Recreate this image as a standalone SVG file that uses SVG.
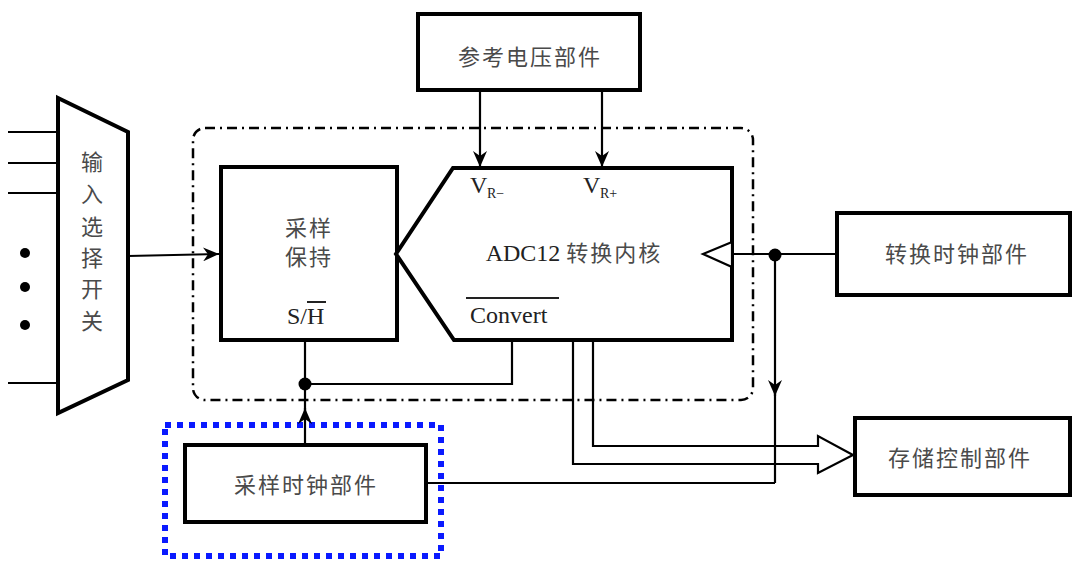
<svg xmlns="http://www.w3.org/2000/svg" width="1076" height="563" viewBox="0 0 1076 563">
<defs>
<style>
.box{fill:#fff;stroke:#000;stroke-width:4}
.ln{fill:none;stroke:#000;stroke-width:2.2}
.zh{font-family:"Noto Sans CJK SC","Noto Sans",sans-serif;font-size:22px;fill:#4a4a4a;letter-spacing:2px}
.lat{font-family:"Liberation Serif",serif;font-size:24px;fill:#222}
.sub{font-family:"Liberation Serif",serif;font-size:14px;fill:#222}
</style>
<marker id="arr" viewBox="0 0 16 14" refX="16" refY="7" markerWidth="16" markerHeight="14" markerUnits="userSpaceOnUse" orient="auto">
<path d="M0,0 L16,7 L0,14 L5,7 z" fill="#000"/>
</marker>
</defs>
<rect width="1076" height="563" fill="#fff"/>

<g id="enclosure">
<rect x="193" y="128" width="560" height="272" rx="12" fill="none" stroke="#000" stroke-width="2.5" stroke-dasharray="10 5 2 5"/>
</g>

<g id="highlight">
<rect x="165" y="425" width="276" height="131" fill="none" stroke="#0a1aff" stroke-width="6" stroke-dasharray="6 6"/>
</g>

<g id="connectors">
<line class="ln" x1="8" y1="132" x2="58" y2="132"/>
<line class="ln" x1="8" y1="163" x2="58" y2="163"/>
<line class="ln" x1="8" y1="193" x2="58" y2="193"/>
<line class="ln" x1="8" y1="383" x2="58" y2="383"/>
<circle cx="25" cy="253" r="5" fill="#000"/>
<circle cx="25" cy="287" r="5" fill="#000"/>
<circle cx="25" cy="325" r="5" fill="#000"/>
<line class="ln" x1="128" y1="256" x2="219" y2="254" marker-end="url(#arr)"/>
<line class="ln" x1="480" y1="90" x2="480" y2="167" marker-end="url(#arr)"/>
<line class="ln" x1="602" y1="90" x2="602" y2="167" marker-end="url(#arr)"/>
<line class="ln" x1="732" y1="254" x2="837" y2="254"/>
<circle cx="775" cy="255" r="6.5" fill="#000"/>
<line class="ln" x1="775" y1="255" x2="775" y2="396" marker-end="url(#arr)"/>
<line class="ln" x1="775" y1="390" x2="775" y2="483"/>
<polyline class="ln" points="426,483 775,483"/>
<polyline class="ln" points="305,341 305,384"/>
<polyline class="ln" points="305,384 512,384 512,341"/>
<circle cx="305" cy="384" r="6.5" fill="#000"/>
<line class="ln" x1="305" y1="445" x2="305" y2="408" marker-end="url(#arr)"/>
<line class="ln" x1="305" y1="414" x2="305" y2="390"/>
<path class="ln" d="M593,341 V446 H818 V436 L853,455 L818,473 V464 H573 V341"/>
</g>

<g id="mux">
<polygon class="box" points="58,98 128,132 128,380 58,413"/>
<text class="zh" x="93" y="170" text-anchor="middle" letter-spacing="0">输</text>
<text class="zh" x="93" y="202" text-anchor="middle" letter-spacing="0">入</text>
<text class="zh" x="93" y="235" text-anchor="middle" letter-spacing="0">选</text>
<text class="zh" x="93" y="266" text-anchor="middle" letter-spacing="0">择</text>
<text class="zh" x="93" y="297" text-anchor="middle" letter-spacing="0">开</text>
<text class="zh" x="93" y="329" text-anchor="middle" letter-spacing="0">关</text>
</g>

<g id="sample-hold">
<rect class="box" x="221" y="167" width="176" height="173"/>
<text class="zh" x="309" y="236" text-anchor="middle">采样</text>
<text class="zh" x="309" y="265" text-anchor="middle">保持</text>
<text class="lat" x="287" y="324">S/H</text>
<line x1="307" y1="302" x2="326" y2="302" stroke="#222" stroke-width="2"/>
</g>

<g id="adc-core">
<polygon class="box" points="453,168 732,168 732,340 454,340 396,254"/>
<polygon points="732,242 703,254 732,267" fill="#fff" stroke="#000" stroke-width="2.2"/>
<text class="lat" x="470" y="193">V</text>
<text class="sub" x="487" y="198">R−</text>
<text class="lat" x="583" y="193">V</text>
<text class="sub" x="600" y="198">R+</text>
<text x="574" y="261" text-anchor="middle"><tspan class="lat">ADC12 </tspan><tspan class="zh">转换内核</tspan></text>
<text class="lat" x="470" y="323">Convert</text>
<line x1="466" y1="298" x2="559" y2="298" stroke="#222" stroke-width="2"/>
</g>

<g id="vref">
<rect class="box" x="418" y="14" width="222" height="76"/>
<text class="zh" x="530" y="65" text-anchor="middle">参考电压部件</text>
</g>

<g id="conv-clock">
<rect class="box" x="837" y="213" width="233" height="82"/>
<text class="zh" x="957" y="262" text-anchor="middle">转换时钟部件</text>
</g>

<g id="storage">
<rect class="box" x="855" y="418" width="215" height="77"/>
<text class="zh" x="960" y="466" text-anchor="middle">存储控制部件</text>
</g>

<g id="sample-clock">
<rect class="box" x="185" y="445" width="241" height="77"/>
<text class="zh" x="306" y="493" text-anchor="middle">采样时钟部件</text>
</g>
</svg>
